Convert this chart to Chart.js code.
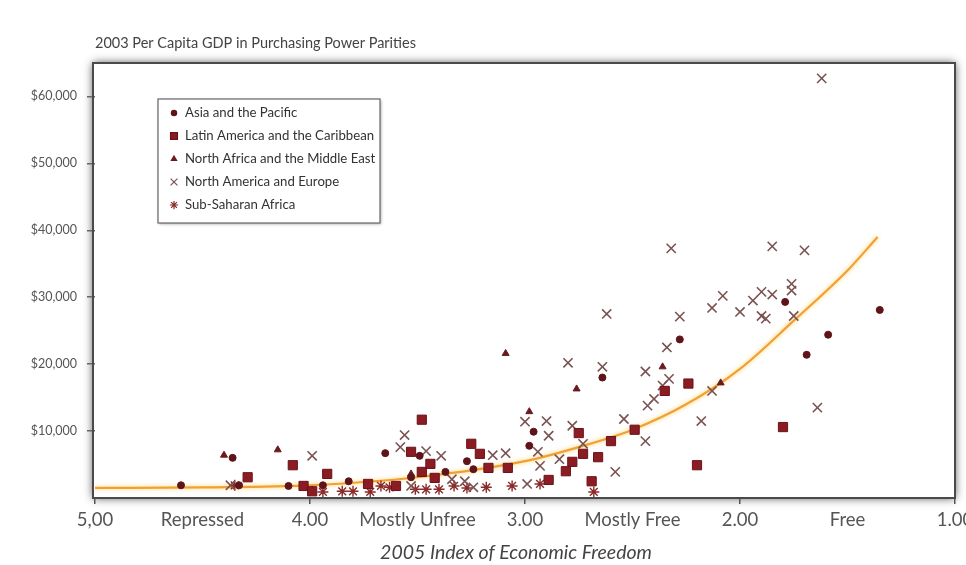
<!DOCTYPE html>
<html>
<head>
<meta charset="utf-8">
<title>Economic Freedom and GDP</title>
<script src="https://cdn.jsdelivr.net/npm/chart.js@4.4.1/dist/chart.umd.min.js"></script>
<style>
  html, body { margin: 0; padding: 0; background: #fff; }
  #wrap { width: 966px; height: 565px; }
</style>
</head>
<body>
<div id="wrap"><canvas id="chart" width="966" height="565"></canvas></div>
<script>
const chartTitle = '2003 Per Capita GDP in Purchasing Power Parities';
const axisTitle = '2005 Index of Economic Freedom';

const seriesNames = [
    'Asia and the Pacific',
    'Latin America and the Caribbean',
    'North Africa and the Middle East',
    'North America and Europe',
    'Sub-Saharan Africa'
];

// index of economic freedom (x) and GDP per capita (y)
const asiaX = [4.60, 4.36, 4.33, 4.10, 3.94, 3.82, 3.65, 3.53, 3.49, 3.37, 3.27, 3.24, 2.98, 2.96, 2.64, 2.28, 1.79, 1.69, 1.59, 1.35];
const asiaY = [1900, 6000, 1900, 1800, 1900, 2500, 6700, 3100, 6300, 3900, 5500, 4300, 7800, 9900, 18000, 23700, 29300, 21400, 24400, 28100];

const latinX = [4.29, 4.08, 4.03, 3.99, 3.92, 3.73, 3.60, 3.53, 3.48, 3.48, 3.44, 3.42, 3.25, 3.21, 3.17, 3.08, 2.89, 2.81, 2.78, 2.75, 2.73, 2.69, 2.66, 2.60, 2.49, 2.35, 2.24, 2.20, 1.80];
const latinY = [3100, 4900, 1800, 1000, 3600, 2100, 1800, 6900, 11700, 3900, 5100, 3000, 8100, 6600, 4500, 4500, 2700, 4000, 5400, 9700, 6600, 2500, 6100, 8500, 10200, 16000, 17100, 4900, 10600];

const mideastX = [4.40, 4.15, 3.99, 3.53, 3.09, 2.98, 2.76, 2.36, 2.09];
const mideastY = [6400, 7200, 1200, 3600, 21600, 12900, 16300, 19600, 17200];

const europeX = [4.37, 3.99, 3.58, 3.56, 3.53, 3.46, 3.39, 3.34, 3.28, 3.24, 3.15, 3.09, 2.99, 3.00, 2.90, 2.89, 2.94, 2.93, 2.84, 2.80, 2.78, 2.73, 2.64, 2.62, 2.58, 2.54, 2.44, 2.44, 2.43, 2.40, 2.36, 2.34, 2.33, 2.32, 2.28, 2.18, 2.13, 2.13, 2.08, 2.00, 1.94, 1.90, 1.90, 1.88, 1.85, 1.85, 1.76, 1.76, 1.75, 1.70, 1.64, 1.62];
const europeY = [1900, 6300, 7600, 9400, 1800, 7000, 6300, 2800, 2500, 1600, 6400, 6700, 2100, 11400, 11500, 9300, 6900, 4800, 5800, 20200, 10800, 8100, 19600, 27500, 3900, 11800, 8500, 18900, 13800, 14800, 16800, 22500, 17800, 37300, 27100, 11500, 16000, 28400, 30200, 27800, 29500, 30800, 27200, 26800, 30400, 37600, 32000, 31000, 27200, 37000, 13500, 62700];

const africaX = [4.35, 3.94, 3.85, 3.80, 3.72, 3.67, 3.63, 3.51, 3.46, 3.40, 3.33, 3.27, 3.18, 3.06, 2.93, 2.68];
const africaY = [1900, 900, 1000, 1000, 900, 1800, 1600, 1300, 1300, 1300, 1800, 1500, 1600, 1800, 2100, 900];

// fitted curve as drawn in the picture
const curveX = [5.0, 4.5, 4.0, 3.5, 3.0, 2.75, 2.5, 2.25, 2.0, 1.75, 1.5, 1.36];
const curveY = [1500, 1600, 1900, 3100, 5500, 7600, 10200, 14000, 19300, 26500, 34000, 39000];

const xTickValues = [5, 4.5, 4, 3.5, 3, 2.5, 2, 1.5, 1];
const xTickLabels = ['5,00', 'Repressed', '4.00', 'Mostly Unfree', '3.00', 'Mostly Free', '2.00', 'Free', '1.00'];
const yTickValues = [10000, 20000, 30000, 40000, 50000, 60000];

const darkRed = '#8c1c24';
const crossGrey = '#7a5252';
const fontFamily = 'Lato, "Open Sans", sans-serif';

function points(xs, ys) {
    return xs.map((x, i) => ({ x: x, y: ys[i] }));
}

const frame = {
    id: 'frame',
    beforeDraw(chart) {
        const { ctx, chartArea: a } = chart;
        ctx.save();
        ctx.shadowColor = 'rgba(0,0,0,0.7)';
        ctx.shadowBlur = 9;
        ctx.fillStyle = '#fff';
        ctx.fillRect(a.left - 2, a.top, a.right - a.left + 2, a.bottom - a.top);
        ctx.restore();

        ctx.save();
        ctx.fillStyle = '#444';
        ctx.font = '14.5px ' + fontFamily;
        ctx.textBaseline = 'middle';
        ctx.fillText(chartTitle, 95, 43);
        ctx.font = 'italic 19.5px ' + fontFamily;
        ctx.textAlign = 'center';
        ctx.fillText(axisTitle, 516, 553);
        ctx.restore();
    },
    afterDatasetsDraw(chart) {
        const { ctx, chartArea: a } = chart;
        ctx.save();
        ctx.strokeStyle = '#4a4a4a';
        ctx.lineWidth = 2;
        ctx.strokeRect(a.left - 2, a.top, a.right - a.left + 2, a.bottom - a.top);

        // legend box
        const lx = 158, ly = 99, lw = 222, lh = 124;
        ctx.shadowColor = 'rgba(0,0,0,0.35)';
        ctx.shadowBlur = 3;
        ctx.shadowOffsetX = 1;
        ctx.shadowOffsetY = 1;
        ctx.fillStyle = '#fff';
        ctx.fillRect(lx, ly, lw, lh);
        ctx.shadowColor = 'transparent';
        ctx.strokeStyle = '#666';
        ctx.lineWidth = 1.2;
        ctx.strokeRect(lx, ly, lw, lh);

        ctx.font = '13.2px ' + fontFamily;
        ctx.textBaseline = 'middle';
        seriesNames.forEach((name, i) => {
            const ds = chart.data.datasets[i];
            const y = 113 + i * 23;
            ctx.fillStyle = ds.backgroundColor;
            ctx.strokeStyle = ds.borderColor;
            Chart.helpers.drawPoint(ctx, {
                pointStyle: ds.pointStyle,
                radius: ds.pointRadius * 0.75,
                borderWidth: ds.borderWidth,
                rotation: 0
            }, 174, y);
            ctx.fillStyle = '#333';
            ctx.fillText(name, 185, y);
        });
        ctx.restore();
    },
    beforeDatasetDraw(chart, args) {
        if (args.index === 5) {
            chart.ctx.save();
            chart.ctx.shadowColor = 'rgba(255,205,90,0.95)';
            chart.ctx.shadowBlur = 4;
        }
    },
    afterDatasetDraw(chart, args) {
        if (args.index === 5) chart.ctx.restore();
    }
};

new Chart(document.getElementById('chart'), {
    type: 'scatter',
    data: {
        datasets: [
            { label: seriesNames[0], data: points(asiaX, asiaY), pointStyle: 'circle', pointRadius: 3.5,
              backgroundColor: '#5e1418', borderColor: '#5e1418', borderWidth: 1 },
            { label: seriesNames[1], data: points(latinX, latinY), pointStyle: 'rect', pointRadius: 6.5,
              backgroundColor: darkRed, borderColor: '#6a1218', borderWidth: 1 },
            { label: seriesNames[2], data: points(mideastX, mideastY), pointStyle: 'triangle', pointRadius: 4,
              backgroundColor: '#6a1a1e', borderColor: '#6a1a1e', borderWidth: 1 },
            { label: seriesNames[3], data: points(europeX, europeY), pointStyle: 'crossRot', pointRadius: 6.5,
              backgroundColor: crossGrey, borderColor: crossGrey, borderWidth: 1.6 },
            { label: seriesNames[4], data: points(africaX, africaY), pointStyle: 'star', pointRadius: 5.5,
              backgroundColor: '#8a2a2a', borderColor: '#8a2a2a', borderWidth: 1.4 },
            { type: 'line', label: 'trend', data: points(curveX, curveY), showLine: true, pointRadius: 0,
              borderColor: '#f0a035', borderWidth: 2.2, cubicInterpolationMode: 'monotone', fill: false }
        ]
    },
    options: {
        responsive: false,
        animation: false,
        layout: { padding: { top: 63, right: 11, left: 0, bottom: 0 } },
        plugins: {
            legend: { display: false },
            tooltip: { enabled: false }
        },
        scales: {
            x: {
                type: 'linear',
                reverse: true,
                min: 1,
                max: 5,
                border: { display: false },
                grid: {
                    drawOnChartArea: false,
                    tickLength: 6,
                    lineWidth: 1.5,
                    tickColor: c => Number.isInteger(c.tick.value) ? '#555' : 'rgba(0,0,0,0)'
                },
                ticks: {
                    autoSkip: false,
                    maxRotation: 0,
                    padding: 5,
                    color: '#555',
                    font: { family: fontFamily, size: 18.5 },
                    callback: v => {
                        const i = xTickValues.findIndex(t => Math.abs(t - v) < 1e-6);
                        return i >= 0 ? xTickLabels[i] : '';
                    }
                },
                afterBuildTicks: s => { s.ticks = xTickValues.map(v => ({ value: v })); },
                afterFit: s => { s.height = 67; s.paddingLeft = 0; s.paddingRight = 0; }
            },
            y: {
                min: 0,
                max: 65000,
                border: { display: false },
                grid: {
                    drawOnChartArea: false,
                    tickLength: 8,
                    lineWidth: 1.5,
                    tickColor: '#666'
                },
                ticks: {
                    autoSkip: false,
                    padding: 10,
                    color: '#555',
                    font: { family: fontFamily, size: 12.5 },
                    callback: v => '$' + v.toLocaleString('en-US')
                },
                afterBuildTicks: s => { s.ticks = yTickValues.map(v => ({ value: v })); },
                afterFit: s => { s.width = 95; s.paddingTop = 0; s.paddingBottom = 0; }
            }
        }
    },
    plugins: [frame]
});
</script>
</body>
</html>
